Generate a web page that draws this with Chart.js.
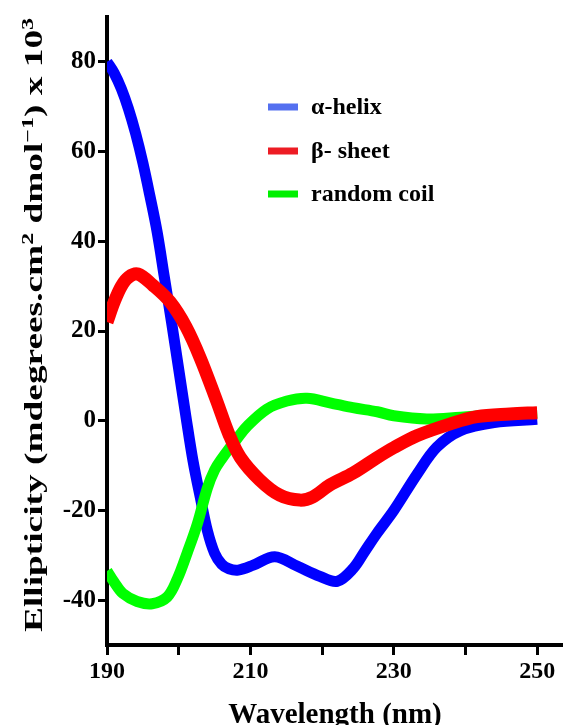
<!DOCTYPE html>
<html>
<head>
<meta charset="utf-8">
<script src="https://cdn.jsdelivr.net/npm/chart.js@4.4.1/dist/chart.umd.min.js"></script>
<style>
  html, body { margin: 0; padding: 0; background: #ffffff; }
  canvas { display: block; }
</style>
</head>
<body>
<canvas id="cd" width="563" height="725"></canvas>
<script>
// CD spectra of the three reference secondary structures
const helixNm  = [190, 191, 192, 193, 194, 195, 196, 197, 198, 199, 200, 201, 202, 203, 204, 205, 206, 207, 208.3, 210.4, 213.4, 216.5, 219.7, 222.1, 224.3, 226, 227.7, 230, 233.3, 236, 239.3, 244, 250];
const helixEll = [80, 77.5, 74, 69.5, 64, 57.5, 50, 42, 32, 22, 11.5, 1, -9, -17, -24.5, -29.5, -32, -33, -33.3, -32.2, -30.3, -32.4, -34.7, -35.8, -33, -29, -25, -20, -11.8, -5.9, -2.2, -0.4, 0.3];

const sheetNm  = [190, 191, 192, 193, 194.3, 196.4, 198.8, 201, 203, 205.3, 207, 208.6, 211.3, 214.1, 216.9, 218.7, 221.1, 224.3, 227.7, 230, 233.3, 237.9, 241.6, 246.2, 250];
const sheetEll = [22, 26.5, 30, 32, 32.7, 30.2, 26.5, 21, 14, 4.4, -3, -8.2, -13.2, -16.6, -17.7, -17, -14.3, -11.7, -8.2, -6, -3.3, -0.7, 0.9, 1.5, 1.8];

const coilNm   = [190, 191, 192.2, 194.2, 196.3, 198.4, 199.8, 201.2, 202.6, 204, 205, 206, 207, 208, 209.5, 212.3, 215.1, 217.9, 221.1, 224.3, 227.7, 230, 234.6, 239.3, 244, 250];
const coilEll  = [-33.5, -36, -38.5, -40.3, -40.8, -39.3, -35.3, -29.4, -23, -15, -11, -8.5, -6.3, -4.3, -1.3, 2.6, 4.4, 5, 4, 2.9, 2, 1.1, 0.4, 0.8, 1.3, 1.8];

const seriesNames = ['\u03b1-helix', '\u03b2- sheet', 'random coil'];
const xTickValues = [190, 200, 210, 220, 230, 240, 250];
const xTickLabelled = [190, 210, 230, 250];
const yTickValues = [-40, -20, 0, 20, 40, 60, 80];

const SERIF = '"Liberation Serif", "Times New Roman", serif';
const lineColors = ['#0000ff', '#ff0000', '#00ff00'];
const swatchColors = ['#5470f0', '#ed1c24', '#00f000'];

const toPoints = (xs, ys) => xs.map((x, i) => ({ x: x, y: ys[i] }));

function lineSet(label, xs, ys, color, width, order) {
  return {
    label: label,
    data: toPoints(xs, ys),
    borderColor: color,
    backgroundColor: color,
    borderWidth: width,
    pointRadius: 0,
    fill: false,
    tension: 0.35,
    borderCapStyle: 'butt',
    borderJoinStyle: 'round',
    order: order
  };
}

// Axis titles and the legend box, painted on top of the chart
const decorations = {
  id: 'decorations',
  afterDraw(chart) {
    const ctx = chart.ctx;
    const area = chart.chartArea;
    ctx.save();
    ctx.fillStyle = '#000';

    // x-axis title, centred under the plot area
    ctx.font = 'bold 29px ' + SERIF;
    ctx.textAlign = 'center';
    ctx.textBaseline = 'alphabetic';
    ctx.fillText('Wavelength (nm)', (area.left + area.right) / 2, 723);

    // y-axis title with superscripts, stretched along its length
    const parts = [
      { t: 'Ellipticity (mdegrees.cm', sup: false },
      { t: '2', sup: true },
      { t: ' dmol', sup: false },
      { t: '\u22121', sup: true },
      { t: ') x 10', sup: false },
      { t: '3', sup: true }
    ];
    const mainFont = 'bold 25px ' + SERIF;
    const supFont = 'bold 16px ' + SERIF;
    let total = 0;
    const widths = parts.map(p => {
      ctx.font = p.sup ? supFont : mainFont;
      const w = ctx.measureText(p.t).width;
      total += w;
      return w;
    });
    ctx.save();
    ctx.translate(42, 325);
    ctx.rotate(-Math.PI / 2);
    ctx.scale(614 / total, 1);
    ctx.textAlign = 'left';
    let x = -total / 2;
    parts.forEach((p, i) => {
      ctx.font = p.sup ? supFont : mainFont;
      ctx.fillText(p.t, x, p.sup ? -9 : 0);
      x += widths[i];
    });
    ctx.restore();

    // legend
    ctx.textAlign = 'left';
    ctx.font = 'bold 24px ' + SERIF;
    const rows = [107, 151, 194];
    chart.data.datasets.forEach((ds, i) => {
      ctx.fillStyle = swatchColors[i];
      ctx.fillRect(268, rows[i] - 3.5, 30, 7);
      ctx.fillStyle = '#000';
      ctx.fillText(ds.label, 311, rows[i] + 7);
    });
    ctx.restore();
  }
};

new Chart(document.getElementById('cd'), {
  type: 'line',
  data: {
    datasets: [
      lineSet(seriesNames[0], helixNm, helixEll, lineColors[0], 11, 2),
      lineSet(seriesNames[1], sheetNm, sheetEll, lineColors[1], 13, 0),
      lineSet(seriesNames[2], coilNm, coilEll, lineColors[2], 11, 1)
    ]
  },
  options: {
    responsive: false,
    animation: false,
    devicePixelRatio: 1,
    layout: { padding: { top: 14, right: 0, bottom: 0, left: 0 } },
    plugins: { legend: { display: false }, tooltip: { enabled: false } },
    scales: {
      x: {
        type: 'linear',
        min: 190,
        max: 253.6,
        afterBuildTicks: s => { s.ticks = xTickValues.map(v => ({ value: v })); },
        afterFit: s => { s.height = 80; },
        ticks: {
          autoSkip: false,
          maxRotation: 0,
          padding: 2,
          color: '#000',
          font: { family: SERIF, size: 24, weight: 'bold' },
          callback: v => (xTickLabelled.includes(v) ? String(v) : '')
        },
        grid: { drawOnChartArea: false, drawTicks: true, tickLength: 10, tickWidth: 3, tickColor: '#000' },
        border: { display: true, color: '#000', width: 4 }
      },
      y: {
        type: 'linear',
        min: -50,
        max: 90,
        afterBuildTicks: s => { s.ticks = yTickValues.map(v => ({ value: v })); },
        afterFit: s => { s.width = 107; },
        ticks: {
          autoSkip: false,
          padding: 2,
          color: '#000',
          font: { family: SERIF, size: 25, weight: 'bold' },
          callback: v => String(v)
        },
        grid: { drawOnChartArea: false, drawTicks: true, tickLength: 9, tickWidth: 3, tickColor: '#000' },
        border: { display: true, color: '#000', width: 4 }
      }
    }
  },
  plugins: [decorations]
});
</script>
</body>
</html>
